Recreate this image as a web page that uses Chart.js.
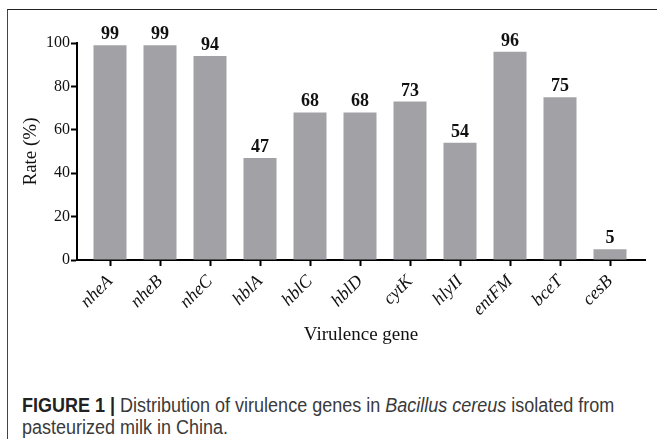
<!DOCTYPE html>
<html>
<head>
<meta charset="utf-8">
<script src="https://cdn.jsdelivr.net/npm/chart.js@4/dist/chart.umd.min.js"></script>
<style>
  html, body { margin: 0; padding: 0; background: #fff; }
  body { width: 657px; height: 439px; position: relative; overflow: hidden; }
  #frame { position: absolute; left: 7px; top: 9px; right: -5px; bottom: -5px;
           border-top: 1.5px solid #222; border-left: 1.5px solid #444; }
  #wrap { position: absolute; left: 0; top: 0; width: 657px; height: 380px; }
  #caption { position: absolute; left: 22px; top: 394px; width: 760px;
             font-family: "Liberation Sans", Arial, sans-serif;
             font-size: 20px; line-height: 22px; color: #3a3a3a;
             transform: scaleX(0.9); transform-origin: left top; }
  #caption b { color: #222; }
</style>
</head>
<body>
<div id="frame"></div>
<div id="wrap"><canvas id="chart" width="657" height="380"></canvas></div>
<div id="caption"><b>FIGURE 1 |</b> Distribution of virulence genes in <i>Bacillus cereus</i> isolated from<br>pasteurized milk in China.</div>
<script>
const genes = ["nheA", "nheB", "nheC", "hblA", "hblC", "hblD", "cytK", "hlyII", "entFM", "bceT", "cesB"];
const rates = [99, 99, 94, 47, 68, 68, 73, 54, 96, 75, 5];
const yTicks = [0, 20, 40, 60, 80, 100];

const serif = "'Liberation Serif', 'Times New Roman', serif";

// value labels above each bar
const barLabels = {
  id: "barLabels",
  afterDatasetsDraw(chart) {
    const ctx = chart.ctx;
    const meta = chart.getDatasetMeta(0);
    ctx.save();
    ctx.font = "bold 18px " + serif;
    ctx.fillStyle = "#111";
    ctx.textAlign = "center";
    ctx.textBaseline = "alphabetic";
    meta.data.forEach((bar, i) => {
      ctx.fillText(String(rates[i]), bar.x, bar.y - 6);
    });
    ctx.restore();
  }
};

const ctx = document.getElementById("chart").getContext("2d");
new Chart(ctx, {
  type: "bar",
  data: {
    datasets: [{
      data: rates.map((v, i) => ({ x: i, y: v })),
      backgroundColor: "#a2a1a6",
      borderWidth: 0,
      barPercentage: 1,
      categoryPercentage: 0.66
    }]
  },
  options: {
    responsive: false,
    animation: false,
    layout: { padding: { top: 43, right: 12, bottom: 0, left: 0 } },
    plugins: { legend: { display: false }, tooltip: { enabled: false } },
    scales: {
      x: {
        type: "linear",
        offset: false,
        min: -0.66,
        max: 10.7,
        afterBuildTicks: (scale) => { scale.ticks = genes.map((g, i) => ({ value: i })); },
        afterFit: (scale) => { scale.height = 120; },
        ticks: {
          minRotation: 45,
          maxRotation: 45,
          autoSkip: false,
          padding: 5,
          color: "#111",
          font: { family: serif, size: 18, style: "italic" },
          callback: (v) => genes[v]
        },
        grid: { drawOnChartArea: false, drawTicks: true, tickLength: 6, tickWidth: 2, tickColor: "#000", offset: false },
        border: { display: true, color: "#000", width: 2 },
        title: {
          display: true,
          text: "Virulence gene",
          color: "#111",
          font: { family: serif, size: 19 },
          padding: { top: 0, bottom: 34 }
        }
      },
      y: {
        min: 0,
        max: 100,
        afterBuildTicks: (scale) => { scale.ticks = yTicks.map(v => ({ value: v })); },
        afterFit: (scale) => { scale.width = 77; },
        ticks: {
          padding: 1,
          color: "#111",
          font: { family: serif, size: 16 }
        },
        grid: { drawOnChartArea: false, drawTicks: true, tickLength: 6, tickWidth: 2, tickColor: "#000" },
        border: { display: true, color: "#000", width: 2 },
        title: {
          display: true,
          text: "Rate (%)",
          color: "#111",
          font: { family: serif, size: 19 },
          padding: { top: 20, bottom: 0 }
        }
      }
    }
  },
  plugins: [barLabels]
});
</script>
</body>
</html>
